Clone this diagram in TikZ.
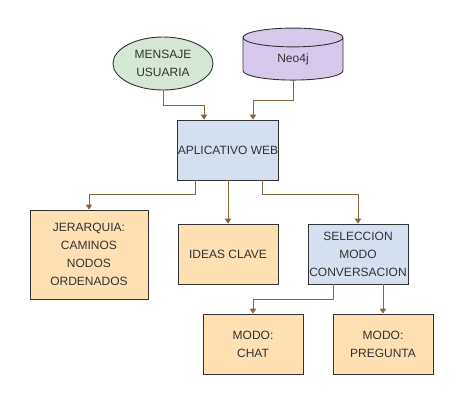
\documentclass[tikz,border=0pt]{standalone}
\usepackage{fontspec}
\setmainfont{Liberation Sans}
\usetikzlibrary{arrows.meta}
\usetikzlibrary{shapes.geometric, positioning}
\definecolor{msgfill}{HTML}{D5E8D4}
\definecolor{dbfill}{HTML}{D5C8EB}
\definecolor{webfill}{HTML}{D4DFEF}
\definecolor{outfill}{HTML}{FFE0B3}
\definecolor{connline}{HTML}{86653F}
\definecolor{conntip}{HTML}{6B4515}
\definecolor{txtgray}{HTML}{333333}
\tikzset{
    box/.style={
        rectangle,
        draw=black!80,
        line width=0.9pt,
        minimum width=100pt,
        minimum height=60pt,
        inner sep=0pt,
        align=center,
        text=txtgray,
        font=\fontsize{12}{18}\selectfont
    },
    webbox/.style={
        box,
        fill=webfill
    },
    outbox/.style={
        box,
        fill=outfill
    },
    conn/.style={
        -{Triangle[width=6.5pt,length=5pt]},
        draw=connline,
        line width=0.9pt
    }
}

\begin{document}
\begin{tikzpicture}[x=1pt, y=-1pt, >=Stealth]
            \useasboundingbox (0,0) rectangle (464,405);

            % Inputs
            \node[box, ellipse, fill=msgfill, minimum width=100pt, minimum height=53pt]
                (msg) at (163,63.5) {MENSAJE\\USUARIA};
            \node[box, cylinder, shape border rotate=90, aspect=0.6, fill=dbfill,
                minimum width=100pt, minimum height=52pt]
                (neo) at (293,59) {Neo4j};

            % Web app
            \node[webbox] (app) at (228,150) {APLICATIVO WEB};

            % Outputs
            \node[outbox, minimum width=118pt, minimum height=89pt]
                (jer) at (89,254.5) {JERARQUIA:\\CAMINOS\\NODOS\\ORDENADOS};
            \node[outbox] (ideas) at (228,254) {IDEAS CLAVE};
            \node[webbox] (sel) at (358,254) {SELECCION\\MODO\\CONVERSACION};
            \node[outbox] (chat) at (253,344) {MODO:\\CHAT};
            \node[outbox] (preg) at (383,344) {MODO:\\PREGUNTA};

            % Connectors
            \draw[conn] (msg.south) -- ++(0,15) -| ([xshift=-24pt]app.north);
            \draw[conn] (neo.south) -- ++(0,20) -| ([xshift=25pt]app.north);
            \draw[conn] ([xshift=-33pt]app.south) -- ++(0,14) -| (jer.north);
            \draw[conn] (app.south) -- (ideas.north);
            \draw[conn] ([xshift=34pt]app.south) -- ++(0,14) -| (sel.north);
            \draw[conn] ([xshift=-25pt]sel.south) -- ++(0,15) -| (chat.north);
            \draw[conn] ([xshift=25pt]sel.south) -- (preg.north);
\end{tikzpicture}
\end{document}
